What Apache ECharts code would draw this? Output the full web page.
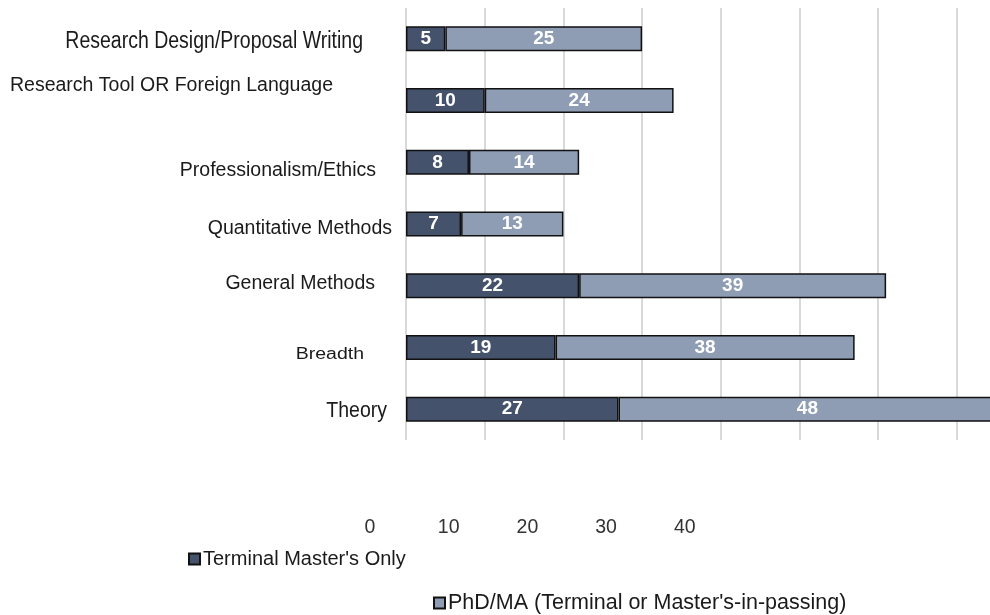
<!DOCTYPE html>
<html>
<head>
<meta charset="utf-8">
<script src="https://cdn.jsdelivr.net/npm/echarts@6/dist/echarts.min.js"></script>
<style>
  html, body { margin: 0; padding: 0; background: #fff; }
  #main { width: 990px; height: 615px; }
</style>
</head>
<body>
<div id="main"></div>
<script>
// data (top row first)
var categories = ['Research Design/Proposal Writing', 'Research Tool OR Foreign Language',
  'Professionalism/Ethics', 'Quantitative Methods', 'General Methods', 'Breadth', 'Theory'];
var terminalOnly = [5, 10, 8, 7, 22, 19, 27];
var phdMA = [25, 24, 14, 13, 39, 38, 48];
var tickLabels = [0, 10, 20, 30, 40];
var seriesNames = ["Terminal Master's Only", "PhD/MA (Terminal or Master's-in-passing)"];

// label placement, the labels in the original sit a bit off their bars
var labelRight = [363, 333, 376, 392, 375, 364, 387];
var labelDy = [2, -14.5, 8, 5, -2, 7, 1.5];
var labelScaleY = [1.25, 1, 1, 1, 1, 0.8, 1.15];

var myChart = echarts.init(document.getElementById('main'));
var font = '"Liberation Sans", Arial, sans-serif';

myChart.setOption({
    animation: false,
    textStyle: { fontFamily: font },
    grid: [
        // axis runs past the right edge of the picture, like the original
        { left: 406, top: 8, width: 584, height: 432 },
        { left: 370, top: 505, width: 314.8, height: 10 }
    ],
    legend: [
        {
            data: [seriesNames[0]],
            left: 188, top: 549, padding: 0,
            icon: 'rect', itemWidth: 11, itemHeight: 11,
            textStyle: { fontSize: 20, color: '#1a1a1a', padding: [0, 0, 0, -2] }
        },
        {
            data: [seriesNames[1]],
            left: 433, top: 592, padding: 0,
            icon: 'rect', itemWidth: 11, itemHeight: 11,
            textStyle: { fontSize: 21.5, color: '#1a1a1a', padding: [0, 0, 0, -2] }
        }
    ],
    xAxis: [
        {
            type: 'value', gridIndex: 0, min: 0, max: 74.2, interval: 10,
            axisLabel: { show: false },
            axisLine: { show: false },
            axisTick: { show: false },
            splitLine: { show: true, showMaxLine: false, lineStyle: { color: '#d9d9d9', width: 2 } }
        },
        {
            type: 'value', gridIndex: 1, min: 0, max: 40, interval: 10,
            position: 'bottom',
            axisLine: { show: false },
            axisTick: { show: false },
            splitLine: { show: false },
            axisLabel: {
                margin: 3, fontSize: 19.5, color: '#333',
                formatter: function (v) { return tickLabels.indexOf(v) >= 0 ? String(v) : ''; }
            }
        }
    ],
    yAxis: [
        {
            type: 'category', gridIndex: 0, inverse: true, data: categories,
            axisLabel: { show: false },
            axisLine: { show: false },
            axisTick: { show: false }
        },
        { type: 'value', gridIndex: 1, show: false }
    ],
    series: [
        {
            name: seriesNames[0], type: 'bar', stack: 'total', barWidth: 25, clip: false,
            data: terminalOnly,
            itemStyle: { color: '#44536b', borderColor: '#111', borderWidth: 1.5 },
            label: { show: true, position: 'inside', color: '#fff', fontWeight: 'bold', fontSize: 19 }
        },
        {
            name: seriesNames[1], type: 'bar', stack: 'total', barWidth: 25, clip: false,
            data: phdMA,
            itemStyle: { color: '#8e9db4', borderColor: '#111', borderWidth: 1.5 },
            label: { show: true, position: 'inside', color: '#fff', fontWeight: 'bold', fontSize: 19 }
        }
    ]
});

// category labels placed next to their bars
var texts = categories.map(function (c, i) {
    var py = myChart.convertToPixel({ yAxisIndex: 0 }, c);
    return {
        type: 'text',
        x: labelRight[i],
        y: py + labelDy[i],
        scaleY: labelScaleY[i],
        style: {
            text: c, align: 'right', verticalAlign: 'middle',
            fontSize: 19.5, fontFamily: font, fill: '#1a1a1a'
        }
    };
});
myChart.setOption({ graphic: texts });
</script>
</body>
</html>
